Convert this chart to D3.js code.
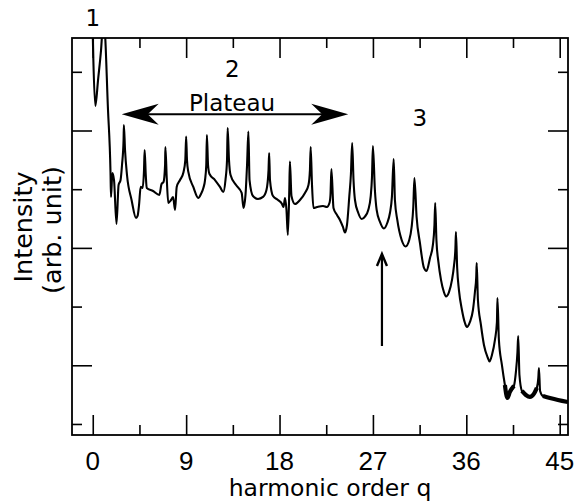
<!DOCTYPE html>
<html>
<head>
<meta charset="utf-8">
<script src="https://cdn.jsdelivr.net/npm/d3@7"></script>
<style>
  html, body { margin: 0; padding: 0; background: #fff; }
  svg { display: block; }
</style>
</head>
<body>
<svg id="chart" width="576" height="502"></svg>
<script>
// ---- data (harmonic order q, log10 intensity in arb. units) ----
const qValues = [-0.02,0.05,0.25,0.51,0.80,0.99,1.09,1.47,1.71,1.76,1.89,2.05,2.29,2.49,2.68,2.82,2.97,3,3.11,3.30,3.74,4.17,4.32,4.46,4.62,4.80,4.94,5,5.11,5.20,5.81,6.42,6.63,6.82,6.97,7,7.13,7.28,7.54,7.74,7.93,8.09,8.41,8.75,8.92,9,9.08,9.21,9.69,10.17,10.43,10.66,10.82,10.94,11,11.11,11.25,11.78,12.26,12.58,12.79,12.94,13,13.13,13.28,13.81,14.35,14.53,14.72,14.87,15,15.11,15.44,15.92,16.41,16.74,16.94,17,17.08,17.37,17.85,18.24,18.38,18.53,18.67,18.80,18.94,19,19.15,19.49,19.97,20.45,20.79,20.93,21,21.13,21.27,21.61,22.19,22.57,22.81,22.91,23,23.20,23.54,23.82,24.11,24.30,24.50,24.72,24.88,25,25.13,25.27,25.59,25.92,26.23,26.55,26.78,26.91,27,27.19,27.36,27.68,28.06,28.38,28.64,28.83,29,29.12,29.35,29.77,30.15,30.50,30.73,30.89,31,31.21,31.53,31.92,32.16,32.50,32.78,32.93,33,33.12,33.31,33.56,33.84,34.04,34.33,34.62,34.81,34.95,35,35.12,35.29,35.58,35.87,36.06,36.35,36.64,36.83,36.96,37,37.12,37.41,37.70,38.08,38.23,38.47,38.76,38.95,39,39.14,39.43,39.72,39.96,40.20,40.59,40.78,40.93,41,41.12,41.36,41.74,42.13,42.51,42.80,42.94,43,43.11,43.38,44.06,44.83,45.79];
const intensity = [3.90,3.626,3.209,3.430,3.686,3.90,3.90,3.175,2.647,2.434,2.638,2.578,2.204,2.536,2.578,2.706,2.919,3.047,2.834,2.621,2.408,2.255,2.272,2.365,2.521,2.510,2.664,2.834,2.621,2.510,2.485,2.451,2.544,2.561,2.706,2.859,2.595,2.382,2.408,2.434,2.323,2.519,2.578,2.647,2.749,2.949,2.749,2.647,2.519,2.425,2.459,2.510,2.578,2.706,2.962,2.706,2.629,2.578,2.519,2.476,2.578,2.749,3.021,2.749,2.621,2.536,2.468,2.340,2.451,2.706,2.991,2.578,2.442,2.417,2.434,2.493,2.664,2.808,2.578,2.442,2.408,2.374,2.348,2.425,2.323,2.110,2.493,2.736,2.442,2.374,2.408,2.468,2.536,2.664,2.859,2.536,2.340,2.348,2.357,2.348,2.382,2.451,2.672,2.340,2.280,2.238,2.178,2.131,2.195,2.434,2.629,2.894,2.578,2.408,2.297,2.246,2.267,2.323,2.434,2.604,2.868,2.493,2.323,2.221,2.165,2.212,2.297,2.434,2.757,2.408,2.238,2.067,2.012,2.067,2.178,2.348,2.595,2.263,2.042,1.829,1.803,1.914,2.025,2.195,2.382,2.067,1.880,1.727,1.624,1.586,1.624,1.727,1.846,1.999,2.135,1.829,1.641,1.471,1.360,1.326,1.369,1.471,1.624,1.761,1.871,1.556,1.343,1.173,1.062,1.032,1.088,1.216,1.369,1.573,1.216,1.003,0.832,0.721,0.773,0.824,0.943,1.113,1.250,0.917,0.781,0.747,0.730,0.756,0.807,0.892,0.977,0.781,0.738,0.721,0.704,0.687];
// q ranges where the trace is a broad detector-noise band
const noiseRanges = [[39.6, 40.75], [41.3, 42.85], [43.2, 45.8]];
const xTicksMajor = [0, 9, 18, 27, 36, 45];
const xTicksMinor = [4.5, 13.5, 22.5, 31.5, 40.5];
const yTicksMajor = [1, 2, 3];
const yTicksMinor = [0.5, 1.5, 2.5, 3.5];
const xDomain = [-2, 45.8];
const yDomain = [0.406, 3.788];
const labels = [
  {text: "1", q: 0, v: 3.89},
  {text: "2", q: 13.45, v: 3.456},
  {text: "Plateau", q: 13.42, v: 3.169},
  {text: "3", q: 31.52, v: 3.038}
];
const plateauArrow = {q0: 2.79, q1: 24.62, v: 3.138};
const cutoffArrow = {q: 27.87, v0: 1.164, v1: 1.948};

// ---- layout ----
const L = 72, R = 568, T = 38, B = 435;
const svg = d3.select("#chart");
const x = d3.scaleLinear().domain(xDomain).range([L, R]);
const y = d3.scaleLinear().domain(yDomain).range([B, T]);
const font = "'DejaVu Sans', sans-serif";
const tickFont = "'Liberation Sans', Arial, sans-serif";

const data = qValues.map((q, i) => ({q, v: intensity[i]}));

svg.append("defs").append("clipPath").attr("id", "clip")
  .append("rect").attr("x", L).attr("y", T).attr("width", R - L).attr("height", B - T);

const line = d3.line().x(d => x(d.q)).y(d => y(d.v)).curve(d3.curveMonotoneX);
const g = svg.append("g").attr("clip-path", "url(#clip)");
g.append("path").datum(data).attr("d", line)
  .attr("fill", "none").attr("stroke", "#000").attr("stroke-width", 2.1)
  .attr("stroke-linejoin", "round");
noiseRanges.forEach(([a, b]) => {
  g.append("path").datum(data.filter(d => d.q >= a && d.q <= b)).attr("d", line)
    .attr("fill", "none").attr("stroke", "#000").attr("stroke-width", 4.2)
    .attr("stroke-linejoin", "round");
});

// ---- axes (ticks inside, mirrored) ----
function axisPair(axisGen, transform) {
  return svg.append("g").attr("transform", transform).call(axisGen)
    .call(s => s.select(".domain").remove())
    .call(s => s.selectAll("text").remove());
}
const majLen = 20, minLen = 10;
axisPair(d3.axisTop(x).tickValues(xTicksMajor).tickSize(majLen), `translate(0,${B})`);
axisPair(d3.axisTop(x).tickValues(xTicksMinor).tickSize(minLen), `translate(0,${B})`);
axisPair(d3.axisBottom(x).tickValues(xTicksMajor).tickSize(majLen), `translate(0,${T})`);
axisPair(d3.axisBottom(x).tickValues(xTicksMinor).tickSize(minLen), `translate(0,${T})`);
axisPair(d3.axisRight(y).tickValues(yTicksMajor).tickSize(majLen), `translate(${L},0)`);
axisPair(d3.axisRight(y).tickValues(yTicksMinor).tickSize(minLen), `translate(${L},0)`);
axisPair(d3.axisLeft(y).tickValues(yTicksMajor).tickSize(majLen), `translate(${R},0)`);
axisPair(d3.axisLeft(y).tickValues(yTicksMinor).tickSize(minLen), `translate(${R},0)`);
svg.selectAll(".tick line").attr("stroke", "#000").attr("stroke-width", 1.6);

// tick labels
svg.append("g").selectAll("text").data(xTicksMajor).join("text")
  .attr("x", d => x(d)).attr("y", 470).attr("text-anchor", "middle")
  .attr("font-family", tickFont).attr("font-size", 26).attr("fill", "#000")
  .text(d => d);

// frame
svg.append("rect").attr("x", L).attr("y", T).attr("width", R - L).attr("height", B - T)
  .attr("fill", "none").attr("stroke", "#000").attr("stroke-width", 1.8);

// axis titles
svg.append("text").attr("x", 330).attr("y", 495.5).attr("text-anchor", "middle")
  .attr("font-family", font).attr("font-size", 23.5).text("harmonic order q");
svg.append("text").attr("transform", "translate(32,227) rotate(-90)").attr("text-anchor", "middle")
  .attr("font-family", font).attr("font-size", 25.5).text("Intensity");
svg.append("text").attr("transform", "translate(61,230) rotate(-90)").attr("text-anchor", "middle")
  .attr("font-family", font).attr("font-size", 25.5).text("(arb. unit)");

// annotations
svg.append("g").selectAll("text").data(labels).join("text")
  .attr("x", d => x(d.q)).attr("y", d => y(d.v)).attr("text-anchor", "middle")
  .attr("font-family", font).attr("font-size", 23).text(d => d.text);

const ay = y(plateauArrow.v), ax0 = x(plateauArrow.q0), ax1 = x(plateauArrow.q1);
const headL = 37, headH = 10.5, notch = 11;
svg.append("line").attr("x1", ax0 + 20).attr("x2", ax1 - 20).attr("y1", ay).attr("y2", ay)
  .attr("stroke", "#000").attr("stroke-width", 2);
svg.append("path").attr("d",
  `M${ax0},${ay} L${ax0 + headL},${ay - headH} L${ax0 + headL - notch},${ay} L${ax0 + headL},${ay + headH} Z`)
  .attr("fill", "#000");
svg.append("path").attr("d",
  `M${ax1},${ay} L${ax1 - headL},${ay - headH} L${ax1 - headL + notch},${ay} L${ax1 - headL},${ay + headH} Z`)
  .attr("fill", "#000");

const cx = x(cutoffArrow.q), cy0 = y(cutoffArrow.v0), cy1 = y(cutoffArrow.v1);
svg.append("line").attr("x1", cx).attr("x2", cx).attr("y1", cy0).attr("y2", cy1 + 1)
  .attr("stroke", "#000").attr("stroke-width", 2.2);
svg.append("path").attr("d", `M${cx - 5},${cy1 + 12} L${cx},${cy1} L${cx + 5},${cy1 + 12}`)
  .attr("fill", "none").attr("stroke", "#000").attr("stroke-width", 2.4);
</script>
</body>
</html>
